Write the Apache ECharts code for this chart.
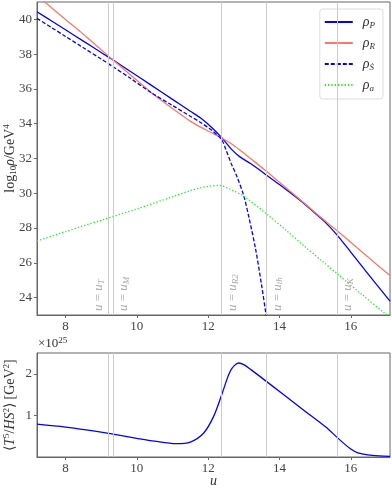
<!DOCTYPE html>
<html>
<head>
<meta charset="utf-8">
<script src="https://cdn.jsdelivr.net/npm/echarts@6/dist/echarts.min.js"></script>
<style>
html, body { margin: 0; padding: 0; background: #fff; }
#main { width: 392px; height: 491px; }
</style>
</head>
<body>
<div id="main"></div>
<script>
// values
var uA = [7.2, 7.6, 8.0, 8.5, 9.0, 9.33, 9.8, 10.4, 11.0, 11.5, 11.8, 12.1, 12.38, 12.65, 12.9, 13.2, 13.6, 14.0, 14.6, 15.0, 15.3, 15.6, 16.0, 16.5, 17.1];
var rhoP = [40.44, 39.92, 39.40, 38.75, 38.10, 37.67, 37.03, 36.22, 35.40, 34.72, 34.31, 33.78, 33.20, 32.54, 32.08, 31.70, 31.10, 30.50, 29.55, 28.85, 28.30, 27.64, 26.62, 25.32, 23.80];
var rhoR = [41.38, 40.68, 39.99, 39.15, 38.25, 37.67, 36.85, 35.80, 34.88, 34.15, 33.79, 33.48, 33.18, 32.85, 32.47, 31.98, 31.32, 30.63, 29.60, 28.90, 28.38, 27.87, 27.18, 26.30, 25.27];

var uS = [7.2, 7.6, 8.0, 8.5, 9.0, 9.33, 9.8, 10.4, 11.0, 11.5, 11.8, 12.1, 12.38, 12.5, 12.65, 12.8, 13.0, 13.15, 13.33, 13.5, 13.62, 13.75];
var rhoS = [40.06, 39.54, 39.02, 38.37, 37.72, 37.28, 36.64, 35.79, 35.05, 34.43, 34.06, 33.62, 33.08, 32.50, 31.70, 31.00, 29.85, 28.55, 26.80, 24.70, 23.05, 21.00];

var uG = [7.2, 8.0, 9.0, 10.0, 11.0, 11.5, 11.8, 12.0, 12.3, 12.6, 13.0, 13.66, 14.2, 14.69, 15.2, 15.63, 16.3, 16.95, 17.1];
var rhoA = [27.26, 27.80, 28.45, 29.10, 29.80, 30.15, 30.32, 30.40, 30.45, 30.25, 29.83, 28.78, 27.85, 26.97, 26.10, 25.35, 24.20, 23.10, 22.85];

var uB = [7.2, 8.0, 9.0, 9.3, 10.0, 10.5, 11.1, 11.5, 11.87, 12.15, 12.39, 12.63, 12.86, 13.0, 13.2, 13.66, 14.69, 15.3, 15.63, 16.0, 16.2, 16.48, 16.8, 17.1];
var tRatio = [0.79, 0.72, 0.60, 0.555, 0.45, 0.38, 0.32, 0.36, 0.57, 0.97, 1.52, 2.08, 2.26, 2.22, 2.10, 1.80, 1.12, 0.72, 0.46, 0.19, 0.10, 0.05, 0.025, 0.015];

var vLines = [9.21, 9.34, 12.38, 13.64, 15.61];
var vSubs = ['T', 'M', 'R2', 'th', 'K'];

var xTicks = [8, 10, 12, 14, 16];
var yTicksTop = [24, 26, 28, 30, 32, 34, 36, 38, 40];
var yTicksBot = [1, 2];

var FONT = 'Liberation Serif';
var BLUE = '#0000ff';
var RED = '#fa7a62';
var GREEN = '#22ee22';

function pairs(xs, ys) {
    var out = [];
    for (var i = 0; i < xs.length; i++) out.push([xs[i], ys[i]]);
    return out;
}

var chart = echarts.init(document.getElementById('main'));

var axisLineStyle = { show: true, lineStyle: { color: '#666', width: 1 } };
var labelStyle = { color: '#444', fontFamily: FONT, fontSize: 13 };

function xAx(idx, name) {
    return {
        type: 'value', gridIndex: idx, min: 7.2, max: 17.1,
        axisLine: axisLineStyle,
        axisTick: { show: true, inside: false, length: 3, customValues: xTicks, lineStyle: { color: '#666' } },
        axisLabel: Object.assign({ customValues: xTicks, margin: 5 }, labelStyle),
        splitLine: { show: false },
        name: name, nameLocation: 'middle', nameGap: 17, nameMoveOverlap: false,
        nameTextStyle: { fontFamily: FONT, fontStyle: 'italic', fontSize: 14, color: '#333' }
    };
}

var markData = vLines.map(function (v, i) {
    return {
        xAxis: v,
        label: {
            show: true,
            position: i === 0 ? 'insideStartTop' : 'insideStartBottom',
            distance: [4, 3],
            formatter: '{i|u} = {i|u}{s|' + vSubs[i] + '}',
            color: '#aaa', fontFamily: FONT, fontSize: 13,
            rich: {
                i: { fontStyle: 'italic', fontFamily: FONT, fontSize: 13, color: '#aaa' },
                s: { fontStyle: 'italic', fontFamily: FONT, fontSize: 9, color: '#aaa', verticalAlign: 'bottom', padding: [6, 0, 0, 0] }
            }
        }
    };
});

var markDataPlain = vLines.map(function (v) { return { xAxis: v, label: { show: false } }; });

function curve(name, xi, xs, ys, color, type) {
    return {
        name: name, type: 'line', xAxisIndex: xi, yAxisIndex: xi, data: pairs(xs, ys),
        symbol: 'none', smooth: 0.3, z: 3, color: color,
        lineStyle: { color: color, width: 1.3, type: type || 'solid' }
    };
}

var option = {
    animation: false,
    backgroundColor: '#fff',
    grid: [
        { left: 37, top: 2, width: 353, height: 313, outerBoundsMode: 'none', containLabel: false, show: true, borderColor: '#666', borderWidth: 1 },
        { left: 37, top: 353, width: 353, height: 104, outerBoundsMode: 'none', containLabel: false, show: true, borderColor: '#666', borderWidth: 1 }
    ],
    xAxis: [xAx(0, ''), xAx(1, 'u')],
    yAxis: [
        {
            type: 'value', gridIndex: 0, min: 23, max: 41,
            axisLine: axisLineStyle,
            axisTick: { show: true, length: 3, customValues: yTicksTop, lineStyle: { color: '#666' } },
            axisLabel: Object.assign({ customValues: yTicksTop, margin: 5 }, labelStyle),
            splitLine: { show: false },
            name: 'log{s|10}{i|ρ}/GeV{p|4}', nameLocation: 'middle', nameGap: 18, nameMoveOverlap: false,
            nameTextStyle: {
                fontFamily: FONT, fontSize: 14, color: '#333',
                rich: {
                    s: { fontFamily: FONT, fontSize: 9, color: '#333', padding: [7, 0, 0, 0] },
                    i: { fontFamily: FONT, fontSize: 14, fontStyle: 'italic', color: '#333' },
                    p: { fontFamily: FONT, fontSize: 9, color: '#333', padding: [0, 0, 8, 0] }
                }
            }
        },
        {
            type: 'value', gridIndex: 1, min: 0, max: 2.5,
            axisLine: axisLineStyle,
            axisTick: { show: true, length: 3, customValues: yTicksBot, lineStyle: { color: '#666' } },
            axisLabel: Object.assign({ customValues: yTicksBot, margin: 5 }, labelStyle),
            splitLine: { show: false },
            name: '⟨{i|T}{p|5}/{i|HS}{p|2}⟩ [GeV{p|2}]', nameLocation: 'middle', nameGap: 18, nameMoveOverlap: false,
            nameTextStyle: {
                fontFamily: FONT, fontSize: 14, color: '#333',
                rich: {
                    i: { fontFamily: FONT, fontSize: 14, fontStyle: 'italic', color: '#333' },
                    p: { fontFamily: FONT, fontSize: 9, color: '#333', padding: [0, 0, 8, 0] }
                }
            }
        }
    ],
    legend: {
        orient: 'vertical', right: 9, top: 9,
        data: ['ρ_P', 'ρ_R', 'ρ_Ṡ', 'ρ_a'],
        itemWidth: 28, itemHeight: 10, itemGap: 6,
        itemStyle: { opacity: 0 },
        backgroundColor: '#fff', borderColor: '#ddd', borderWidth: 1, borderRadius: 3,
        padding: [6, 8, 6, 4],
        formatter: function (name) {
            var p = name.split('_');
            return '{r|' + p[0] + '}{s|' + p[1] + '}';
        },
        textStyle: {
            fontFamily: FONT, fontSize: 14, color: '#333', padding: [0, 0, 0, 5],
            rich: {
                r: { fontFamily: FONT, fontSize: 14, fontStyle: 'italic', color: '#333' },
                s: { fontFamily: FONT, fontSize: 9, fontStyle: 'italic', color: '#333', padding: [7, 0, 0, 0] }
            }
        }
    },
    graphic: [
        {
            type: 'text', left: 38, top: 336,
            style: {
                text: '×10{p|25}', fontFamily: FONT, fontSize: 13, fill: '#333',
                rich: { p: { fontFamily: FONT, fontSize: 9, fill: '#333', padding: [0, 0, 7, 0] } }
            }
        }
    ],
    series: [
        {
            name: 'guides', type: 'line', xAxisIndex: 0, yAxisIndex: 0, data: [], z: 1,
            markLine: { silent: true, symbol: 'none', animation: false, lineStyle: { color: '#ccc', width: 1, type: 'solid' }, data: markData }
        },
        {
            name: 'guides2', type: 'line', xAxisIndex: 1, yAxisIndex: 1, data: [], z: 1,
            markLine: { silent: true, symbol: 'none', animation: false, lineStyle: { color: '#ccc', width: 1, type: 'solid' }, data: markDataPlain }
        },
        curve('ρ_P', 0, uA, rhoP, BLUE),
        curve('ρ_R', 0, uA, rhoR, RED),
        curve('ρ_Ṡ', 0, uS, rhoS, BLUE, [4, 2]),
        curve('ρ_a', 0, uG, rhoA, GREEN, [1.3, 2]),
        curve('T5', 1, uB, tRatio, BLUE)
    ]
};

chart.setOption(option);
</script>
</body>
</html>
